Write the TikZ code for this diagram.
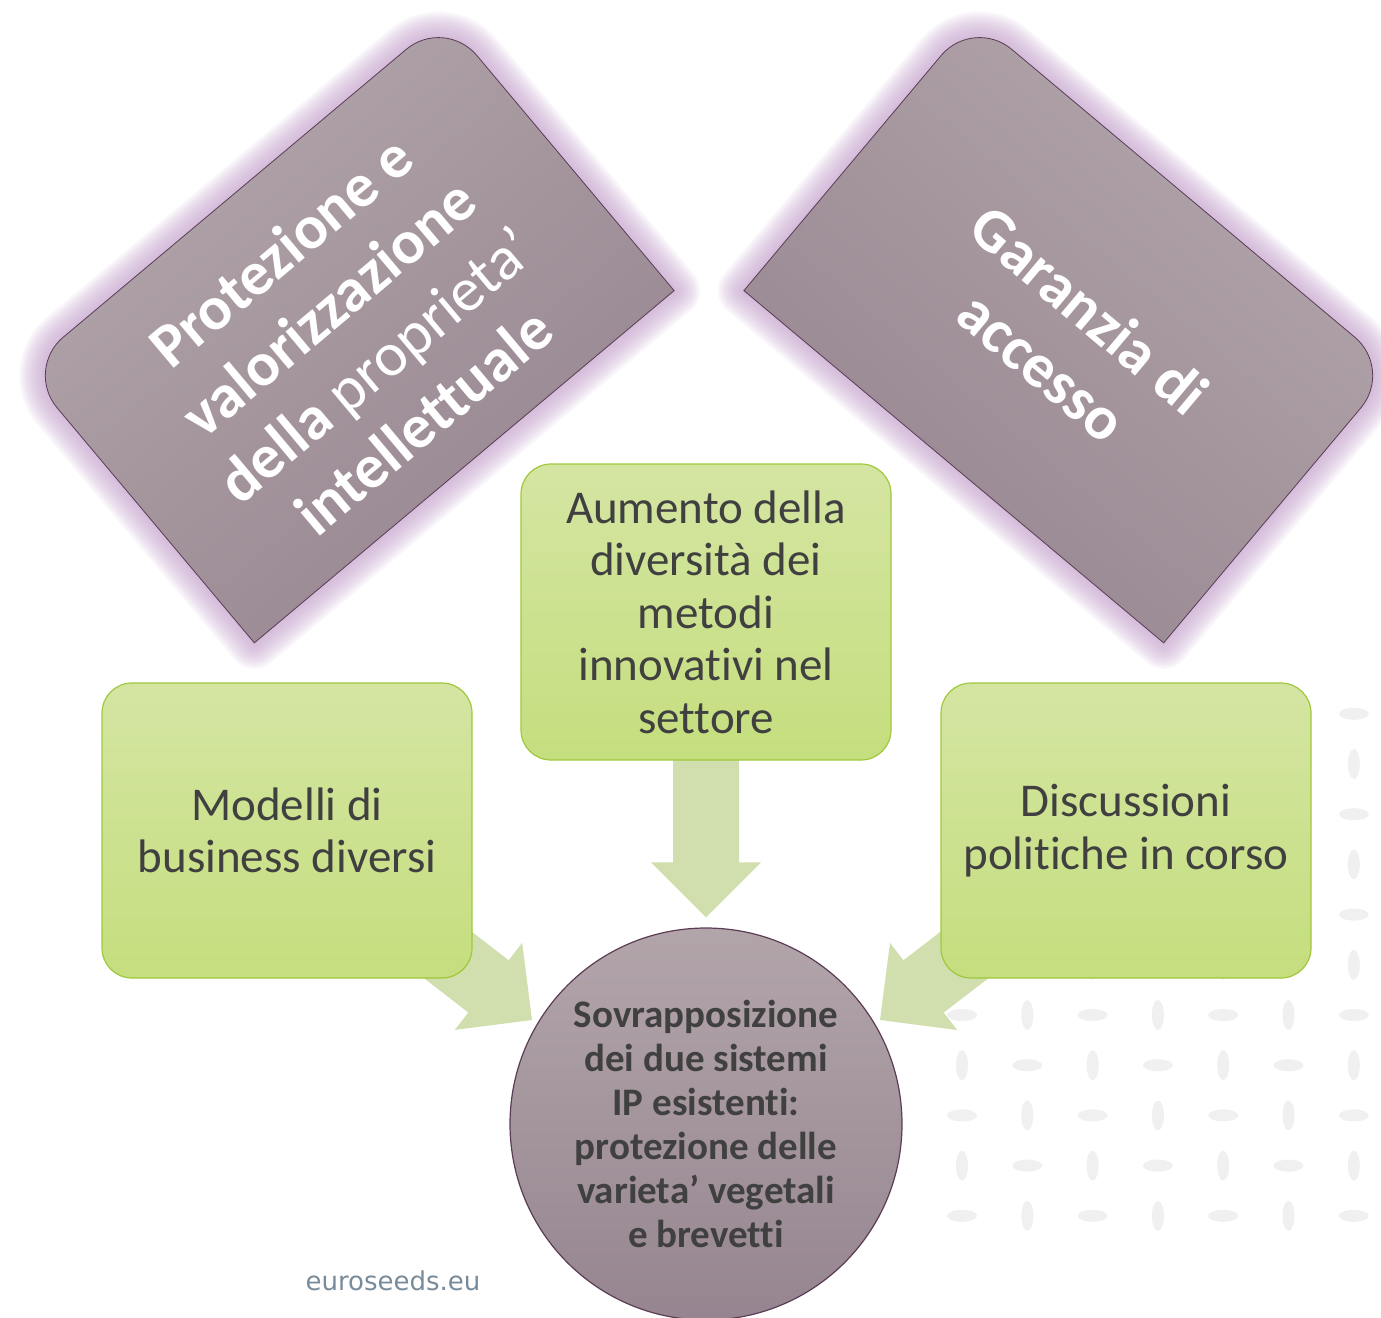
\documentclass[tikz,border=0pt]{standalone}
\usepackage{fontspec}
\setmainfont{Carlito}[Ligatures={NoCommon,NoRare,NoContextual}]
\newfontfamily\sitefont{DejaVu Sans}
\usetikzlibrary{calc}
\pgfdeclarelayer{back}
\pgfsetlayers{back,main}

\definecolor{mauveL}{RGB}{178,165,170}
\definecolor{mauveD}{RGB}{150,133,144}
\definecolor{glow}{RGB}{196,162,204}
\definecolor{rim}{RGB}{90,60,85}
\definecolor{greenL}{RGB}{212,229,162}
\definecolor{greenD}{RGB}{197,222,126}
\definecolor{greenB}{RGB}{160,200,60}
\definecolor{arrowG}{RGB}{208,223,173}
\definecolor{txt}{RGB}{64,64,64}
\definecolor{seed}{RGB}{240,240,240}
\definecolor{site}{RGB}{120,139,155}

\tikzset{
  greenbox/.style={rectangle, rounded corners=30, draw=greenB, line width=1.2,
    top color=greenL, bottom color=greenD, text=txt, align=center, inner sep=0,
    minimum width=370, minimum height=296, font=\fontsize{47}{52.5}\selectfont},
  tabtext/.style={text=white, align=center, font=\bfseries\fontsize{62}{74}\selectfont},
  hub/.style={circle, draw=rim, line width=1.2, top color=mauveL, bottom color=mauveD,
    minimum size=392, inner sep=0, text=txt, align=center,
    font=\bfseries\fontsize{39}{44}\selectfont},
}

% rectangle with its two upper corners rounded
\newcommand{\tabpath}{(-274,-178.5) -- (274,-178.5) -- (274,128.5)
  arc[start angle=0,end angle=90,radius=50] -- (-224,178.5)
  arc[start angle=90,end angle=180,radius=50] -- cycle}

% block arrow from #1 to the tip #2
\newcommand{\fatarrow}[2]{%
  \coordinate (h) at ($(#2)!55pt!(#1)$);
  \fill[arrowG] ($(#1)!33pt!90:(#2)$) -- ($(h)!33pt!-90:(#1)$) -- ($(h)!55pt!-90:(#1)$)
    -- (#2) -- ($(h)!55pt!90:(#1)$) -- ($(h)!33pt!90:(#1)$) -- ($(#1)!33pt!-90:(#2)$) -- cycle;}

\begin{document}
\begin{tikzpicture}[x=1pt,y=-1pt]
\useasboundingbox (0,0) rectangle (1381,1317);
% seeds in the background
\begin{pgfonlayer}{back}
\foreach \c in {0,...,6}
  \foreach \r in {-6,...,4}{
    \pgfmathtruncatemacro\turn{90*mod(\c+\r+6,2)}
    \fill[seed, shift={(962+65.3*\c,1015+50.2*\r)}, rotate=\turn] (0,0) ellipse [x radius=15, y radius=6];
  }
\end{pgfonlayer}
% the two tilted tabs
\foreach \cx/\ang in {349.5/40, 1068.5/-40}{
  \begin{scope}[shift={(\cx,330)}, rotate=\ang, x=1pt, y=1pt]
    \foreach \w in {52,48,...,4}
      \draw[glow, line width=\w, opacity=.09, line join=round] \tabpath;
    \draw[rim, line width=.8, top color=mauveL, bottom color=mauveD, shading angle=\ang] \tabpath;
  \end{scope}
}
\node[tabtext, rotate=40] (tutela) at (352,336) {Protezione e\\valorizzazione\\della {\mdseries proprieta’}\\intellettuale};
\node[tabtext, rotate=-40] (accesso) at (1066,338) {Garanzia di\\accesso};

\node[greenbox] (aumento) at (706,612) {Aumento della\\diversità dei\\metodi\\innovativi nel\\settore};
\node[greenbox, minimum height=295] (modelli) at (287,830.5) {Modelli di\\business diversi};
\node[greenbox, minimum height=295] (discuss) at (1126,830.5) {Discussioni\\politiche in corso};
\node[hub] (sovrap) at (706,1124) {Sovrapposizione\\dei due sistemi\\IP esistenti:\\protezione delle\\varieta’ vegetali\\e brevetti};
\node[font=\sitefont\fontsize{26}{30}\selectfont, text=site] (sito) at (393,1281) {euroseeds.eu};

\coordinate (tipc) at ($(sovrap.north)+(0,-10)$);
\coordinate (tipl) at ($(sovrap.center)+(-174,-104)$);
\coordinate (tipr) at ($(sovrap.center)+(174,-104)$);
\begin{pgfonlayer}{back}
\fatarrow{aumento.center}{tipc}
\fatarrow{modelli.center}{tipl}
\fatarrow{discuss.center}{tipr}
\end{pgfonlayer}
\end{tikzpicture}
\end{document}
